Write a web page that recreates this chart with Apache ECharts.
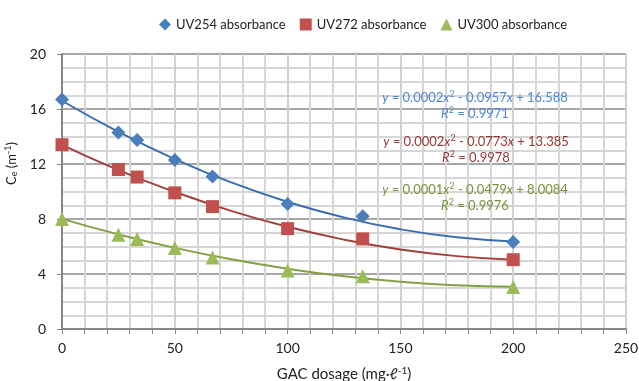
<!DOCTYPE html>
<html>
<head>
<meta charset="utf-8">
<script src="https://cdn.jsdelivr.net/npm/echarts@6/dist/echarts.min.js"></script>
<style>
html,body{margin:0;padding:0;background:#fff;}
#chart{width:639px;height:381px;}
</style>
</head>
<body>
<div id="chart"></div>
<script>
// GAC dose (mg/l) of the measured points
var dose = [0, 25, 33.3, 50, 66.7, 100, 133.3, 200];
// measured absorbance
var uv254 = [16.7, 14.3, 13.75, 12.3, 11.1, 9.1, 8.2, 6.33];
var uv272 = [13.4, 11.6, 11.05, 9.9, 8.9, 7.3, 6.55, 5.04];
var uv300 = [8.0, 6.85, 6.55, 5.9, 5.2, 4.25, 3.83, 3.05];
// trend curves
var trendX = [0, 25, 50, 75, 100, 125, 150, 175, 200];
var trend254 = [16.6, 14.34, 12.36, 10.66, 9.25, 8.11, 7.25, 6.67, 6.37];
var trend272 = [13.39, 11.56, 9.97, 8.59, 7.43, 6.5, 5.79, 5.3, 5.04];
var trend300 = [8.01, 6.88, 5.9, 5.07, 4.38, 3.83, 3.43, 3.18, 3.07];
var names = ['UV254 absorbance', 'UV272 absorbance', 'UV300 absorbance'];

var FONT = "Lato, 'Open Sans', sans-serif";

function pairs(xs, ys) {
  var out = [];
  for (var i = 0; i < xs.length; i++) out.push([xs[i], ys[i]]);
  return out;
}

//公式标签
function eqText(x, y, color, a, b, c, r2) {
  var rich = {
    n: {fontFamily: FONT, fontSize: 13, fill: color},
    i: {fontFamily: FONT, fontSize: 13, fill: color, fontStyle: 'italic'},
    s: {fontFamily: FONT, fontSize: 9, fill: color, padding: [0, 0, 7, 0]}
  };
  return {
    type: 'text', x: x, y: y, z: 10,
    style: {
      text: '{i|y}{n| = ' + a + '}{i|x}{s|2}{n| - ' + b + '}{i|x}{n| + ' + c + '}\n' +
            '{i|R}{s|2}{n| = ' + r2 + '}',
      rich: rich,
      fill: color,
      align: 'center',
      lineHeight: 16
    }
  };
}

var myChart = echarts.init(document.getElementById('chart'));
var colors = ['#4a7ebb', '#c0504d', '#9bbb59'];
var lineColors = ['#3a6db0', '#a0403d', '#849f45'];

var option = {
  animation: false,
  textStyle: {fontFamily: FONT},
  grid: {left: 62, right: 13, top: 54, bottom: 52, outerBoundsMode: 'none'},
  legend: {
    top: 13,
    left: 154,
    itemGap: 14,
    itemWidth: 12,
    itemHeight: 12,
    textStyle: {fontFamily: FONT, fontSize: 13, color: '#222'},
    data: [
      {name: names[0], icon: 'diamond'},
      {name: names[1], icon: 'rect'},
      {name: names[2], icon: 'triangle'}
    ]
  },
  xAxis: {
    type: 'value',
    min: 0, max: 250, interval: 50,
    name: 'GAC dosage (mg·ℓ{sup|-1})',
    nameLocation: 'middle',
    nameGap: 37,
    nameTextStyle: {
      fontFamily: FONT, fontSize: 15, color: '#222',
      rich: {sup: {fontSize: 10, padding: [0, 0, 7, 0], color: '#222'}}
    },
    axisLine: {lineStyle: {color: '#868686', width: 2}},
    axisTick: {show: true, length: 5, lineStyle: {color: '#868686'}},
    minorTick: {show: true, splitNumber: 5, length: 5, lineStyle: {color: '#868686'}},
    axisLabel: {fontSize: 14, color: '#222', margin: 12},
    splitLine: {show: true, lineStyle: {color: '#d0d0d0', width: 2}},
    minorSplitLine: {show: true, lineStyle: {color: '#d6d6d6', width: 2}}
  },
  yAxis: {
    type: 'value',
    min: 0, max: 20, interval: 4,
    name: 'C{sub|e} (m{sup|-1})',
    nameLocation: 'middle',
    nameGap: 37,
    nameTextStyle: {
      fontFamily: FONT, fontSize: 13, color: '#222',
      padding: [0, 0, 0, 56],
      rich: {
        sub: {fontSize: 9, padding: [6, 0, 0, 0], color: '#222'},
        sup: {fontSize: 9, padding: [0, 0, 7, 0], color: '#222'}
      }
    },
    axisLine: {show: true, lineStyle: {color: '#868686', width: 2}},
    axisTick: {show: true, length: 5, lineStyle: {color: '#868686'}},
    axisLabel: {fontSize: 14, color: '#222', margin: 16},
    splitLine: {show: true, lineStyle: {color: '#a6a6a6', width: 2}},
    minorTick: {show: false, splitNumber: 4},
    minorSplitLine: {show: true, lineStyle: {color: '#d6d6d6', width: 2}}
  },
  series: [
    {name: 'trend254', type: 'line', smooth: true, showSymbol: false, silent: true,
     lineStyle: {color: lineColors[0], width: 2}, data: pairs(trendX, trend254), z: 2},
    {name: 'trend272', type: 'line', smooth: true, showSymbol: false, silent: true,
     lineStyle: {color: lineColors[1], width: 2}, data: pairs(trendX, trend272), z: 2},
    {name: 'trend300', type: 'line', smooth: true, showSymbol: false, silent: true,
     lineStyle: {color: lineColors[2], width: 2}, data: pairs(trendX, trend300), z: 2},
    {name: names[0], type: 'scatter', symbol: 'diamond', symbolSize: 14,
     itemStyle: {color: colors[0], opacity: 1}, data: pairs(dose, uv254), z: 3},
    {name: names[1], type: 'scatter', symbol: 'rect', symbolSize: 13,
     itemStyle: {color: colors[1], opacity: 1}, data: pairs(dose, uv272), z: 3},
    {name: names[2], type: 'scatter', symbol: 'triangle', symbolSize: 14,
     itemStyle: {color: colors[2], opacity: 1}, data: pairs(dose, uv300), z: 3}
  ],
  graphic: [
    eqText(475, 90, '#4f86cf', '0.0002', '0.0957', '16.588', '0.9971'),
    eqText(476, 134, '#953735', '0.0002', '0.0773', '13.385', '0.9978'),
    eqText(475, 182, '#77933c', '0.0001', '0.0479', '8.0084', '0.9976')
  ]
};
myChart.setOption(option);
</script>
</body>
</html>
